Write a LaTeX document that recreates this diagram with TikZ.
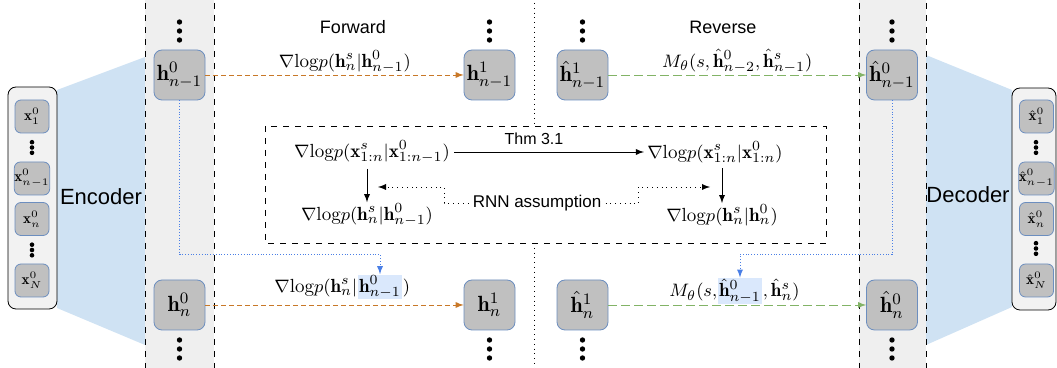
\documentclass[tikz,border=0pt]{standalone}
\usepackage{fontspec}
\setsansfont{Liberation Sans}
\definecolor{boxgray}{HTML}{C0C0C0}
\definecolor{boxedge}{HTML}{6C8EBF}
\definecolor{panelgray}{HTML}{F2F2F2}
\definecolor{colgray}{HTML}{EFEFEF}
\definecolor{trapblue}{HTML}{CFE2F3}
\definecolor{hlblue}{HTML}{DAE8FC}
\definecolor{fwdcol}{RGB}{200,120,40}
\definecolor{revcol}{HTML}{82B366}
\definecolor{linkcol}{RGB}{74,127,230}
\begin{document}
\begin{tikzpicture}[x=0.5pt, y=-0.5pt,
    hbox/.style={draw=boxedge, fill=boxgray, rounded corners=4pt, minimum width=25.5pt, minimum height=25pt, inner sep=0pt, font=\fontsize{11}{13}\selectfont},
    xbox/.style={draw=boxedge, fill=boxgray, rounded corners=3pt, minimum width=17pt, minimum height=16.5pt, inner sep=0pt, font=\fontsize{7.5}{9}\selectfont},
    panel/.style={draw, fill=panelgray, rounded corners=4pt, inner sep=0pt},
    lbl/.style={font=\fontsize{9.5}{11}\selectfont, inner sep=0.5pt},
    hl/.style={lbl, fill=hlblue},
    txt/.style={font=\sffamily\small},
    fwd/.style={draw=fwdcol, dash pattern=on 2.5pt off 1.5pt, -latex},
    rev/.style={draw=revcol, dash pattern=on 4.5pt off 2pt, -latex},
    link/.style={draw=linkcol, densely dotted, -latex}]
            \useasboundingbox (0, 0) rectangle (1057, 368);

            \fill[trapblue] (57, 90) -- (145, 57) -- (145, 345) -- (57, 308) -- cycle;
            \fill[trapblue] (926, 55) -- (1012, 90) -- (1012, 307) -- (926, 345) -- cycle;
            \fill[colgray] (145, 0) rectangle (214, 368);
            \fill[colgray] (859, 0) rectangle (926, 368);
            \draw[dashed] (145, 3) -- (145, 368) (214, 3) -- (214, 368);
            \draw[dashed] (859, 3) -- (859, 368) (926, 3) -- (926, 368);
            \draw[dotted] (534, 3) -- (534, 368);
            \draw[dashed, fill=white] (265, 126) rectangle (826, 243);

            \node[panel, minimum width=24.5pt, minimum height=111pt] (In) at (32.5, 198) {};
            \node[panel, minimum width=22pt, minimum height=111pt] (Out) at (1034, 199) {};
            \node[xbox] (X1) at (32, 116.5) {$\mathbf{x}^0_1$};
            \node[xbox] (Xm) at (32, 178.5) {$\mathbf{x}^0_{n-1}$};
            \node[xbox] (Xn) at (32, 219) {$\mathbf{x}^0_n$};
            \node[xbox] (XN) at (32, 280.5) {$\mathbf{x}^0_N$};
            \node[xbox] (Y1) at (1036.5, 116.5) {$\hat{\mathbf{x}}^0_1$};
            \node[xbox] (Ym) at (1036.5, 178.5) {$\hat{\mathbf{x}}^0_{n-1}$};
            \node[xbox] (Yn) at (1036.5, 219) {$\hat{\mathbf{x}}^0_n$};
            \node[xbox] (YN) at (1036.5, 280.5) {$\hat{\mathbf{x}}^0_N$};

            \node[hbox] (H0a) at (179.5, 75) {$\mathbf{h}^0_{n-1}$};
            \node[hbox] (H0b) at (179.5, 305) {$\mathbf{h}^0_n$};
            \node[hbox] (H1a) at (489.5, 75) {$\mathbf{h}^1_{n-1}$};
            \node[hbox] (H1b) at (489.5, 305) {$\mathbf{h}^1_n$};
            \node[hbox] (R1a) at (582.5, 75) {$\hat{\mathbf{h}}^1_{n-1}$};
            \node[hbox] (R1b) at (582.5, 305) {$\hat{\mathbf{h}}^1_n$};
            \node[hbox] (R0a) at (892, 75) {$\hat{\mathbf{h}}^0_{n-1}$};
            \node[hbox] (R0b) at (892, 305) {$\hat{\mathbf{h}}^0_n$};

            \foreach \x/\y in {179.5/22, 489.5/22, 582.5/22, 892/22, 179.5/340, 489.5/340, 582.5/340, 892/340}
                \foreach \d in {0, 1, 2}
                    \fill (\x, \y + 9 * \d) circle (1.35pt);
            \foreach \x/\y in {32/142.2, 32/244.7, 1036/142.2, 1036/243.2}
                \foreach \d in {0, 1, 2}
                    \fill (\x, \y + 5.3 * \d) circle (1.15pt);

            \node[txt, font=\sffamily\fontsize{11}{13}\selectfont] (Enc) at (101, 197) {Encoder};
            \node[txt, font=\sffamily\fontsize{11}{13}\selectfont] (Dec) at (968, 195) {Decoder};
            \node[txt] (Fw) at (353, 27) {Forward};
            \node[txt] (Rv) at (723, 27) {Reverse};

            \node[lbl] (TL) at (372, 152) {$\nabla\mathrm{log}p(\mathbf{x}^s_{1:n}|\mathbf{x}^0_{1:n-1})$};
            \node[lbl] (TR) at (715, 152) {$\nabla\mathrm{log}p(\mathbf{x}^s_{1:n}|\mathbf{x}^0_{1:n})$};
            \node[lbl] (BL) at (367, 215) {$\nabla\mathrm{log}p(\mathbf{h}^s_n|\mathbf{h}^0_{n-1})$};
            \node[lbl] (BR) at (722, 215) {$\nabla\mathrm{log}p(\mathbf{h}^s_n|\mathbf{h}^0_n)$};
            \node[txt, font=\sffamily\fontsize{8.5}{10}\selectfont, inner sep=2pt] (RNN) at (537, 203) {RNN assumption};
            \coordinate (Ta) at (378, 187);
            \coordinate (Tb) at (710, 187);

            \draw[-latex] (TL.east) ++(3, 0) -- node[txt, font=\sffamily\footnotesize, above, pos=0.42] (Thm) {Thm 3.1} ([xshift=-1pt]TR.west);
            \draw[-latex, shorten <=2pt] (TL.south -| BL.north) -- (BL.north);
            \draw[-latex, shorten <=2pt] (TR.south -| BR.north) -- (BR.north);
            \draw[dotted, -latex] (RNN.west) -- ++(-24, 0) |- (Ta);
            \draw[dotted, -latex] (RNN.east) -- ++(33, 0) |- (Tb);

            \node[hl] (HLa) at (380, 287) {$\mathbf{h}^0_{n-1}$};
            \node[lbl, anchor=base east, inner sep=0pt] (Lfa) at (HLa.base west) {$\nabla\mathrm{log}p(\mathbf{h}^s_n|$};
            \node[lbl, anchor=base west, inner sep=0pt] (Lfb) at (HLa.base east) {$)$};
            \node[hl] (HLb) at (740, 291) {$\hat{\mathbf{h}}^0_{n-1}$};
            \node[lbl, anchor=base east, inner sep=0pt] (Lra) at (HLb.base west) {$M_\theta(s,$};
            \node[lbl, anchor=base west, inner sep=0pt] (Lrb) at (HLb.base east) {$,\hat{\mathbf{h}}^s_n)$};

            \draw[fwd] (H0a) -- node[lbl, above, pos=0.54] (Fa) {$\nabla\mathrm{log}p(\mathbf{h}^s_n|\mathbf{h}^0_{n-1})$} (H1a);
            \draw[fwd] (H0b) -- (H1b);
            \draw[rev] (R1a) -- node[lbl, above] (Ra) {$M_\theta(s,\hat{\mathbf{h}}^0_{n-2},\hat{\mathbf{h}}^s_{n-1})$} (R0a);
            \draw[rev] (R1b) -- (R0b);
            \draw[link] (H0a.south) -- ++(0, 154) -| (HLa.north);
            \draw[link] (R0a.south) -- ++(0, 154) -| (HLb.north);
        \end{tikzpicture}
\end{document}
